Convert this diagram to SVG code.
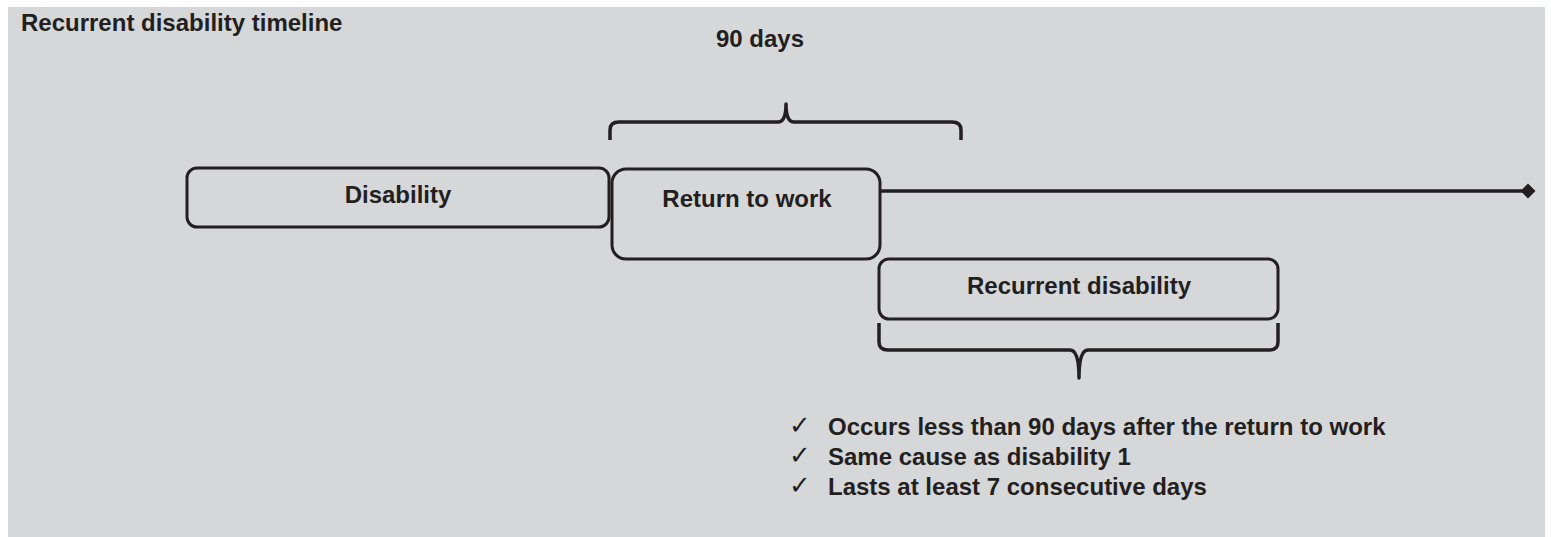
<svg xmlns="http://www.w3.org/2000/svg" width="1551" height="537" viewBox="0 0 1551 537">
<style>
.t{font-family:"Liberation Sans",Arial,sans-serif;font-weight:bold;font-size:24px;fill:#231f20}
.c{font-family:"DejaVu Sans",sans-serif;font-size:26px;fill:#231f20}
.box{fill:none;stroke:#231f20;stroke-width:3}
.ln{fill:none;stroke:#231f20;stroke-width:3.5;stroke-linejoin:round}
</style>
<defs>
<marker id="dia" viewBox="0 0 10 10" refX="5" refY="5" markerWidth="4.3" markerHeight="4.3" orient="auto">
<path d="M0,5 L5,0 L10,5 L5,10 Z" fill="#231f20"/>
</marker>
</defs>
<rect x="0" y="0" width="1551" height="537" fill="#ffffff"/>
<rect x="8" y="7" width="1537" height="530" fill="#d6d7d9"/>
<text id="title" class="t" x="21" y="31">Recurrent disability timeline</text>
<g id="label-90">
<text class="t" x="760" y="47" text-anchor="middle">90 days</text>
</g>
<g id="disability">
<rect class="box" x="187" y="168" width="422" height="59" rx="10"/>
<text class="t" x="398" y="203" text-anchor="middle">Disability</text>
</g>
<g id="return">
<rect class="box" x="612" y="169" width="268" height="90" rx="14"/>
<text class="t" x="747" y="207" text-anchor="middle">Return to work</text>
</g>
<g id="recurrent">
<rect class="box" x="879" y="259" width="399" height="60" rx="10"/>
<text class="t" x="1079" y="294" text-anchor="middle">Recurrent disability</text>
</g>
<g id="connectors">
<path class="ln" d="M880,191 L1528,191" marker-end="url(#dia)"/>
<path class="ln" d="M610,140 L610,130 Q610,122 619,122 L778,122 Q786,122 786,104 Q786,122 794,122 L952,122 Q961,122 961,130 L961,140"/>
<path class="ln" d="M879,323 L879,342 Q879,350 888,350 L1070,350 Q1079,350 1079,378 Q1079,350 1088,350 L1269,350 Q1278,350 1278,342 L1278,323"/>
</g>
<g id="criteria">
<text class="c" x="789" y="434">✓</text>
<text class="t" x="828" y="435">Occurs less than 90 days after the return to work</text>
<text class="c" x="789" y="464">✓</text>
<text class="t" x="828" y="465">Same cause as disability 1</text>
<text class="c" x="789" y="494">✓</text>
<text class="t" x="828" y="495">Lasts at least 7 consecutive days</text>
</g>
</svg>
